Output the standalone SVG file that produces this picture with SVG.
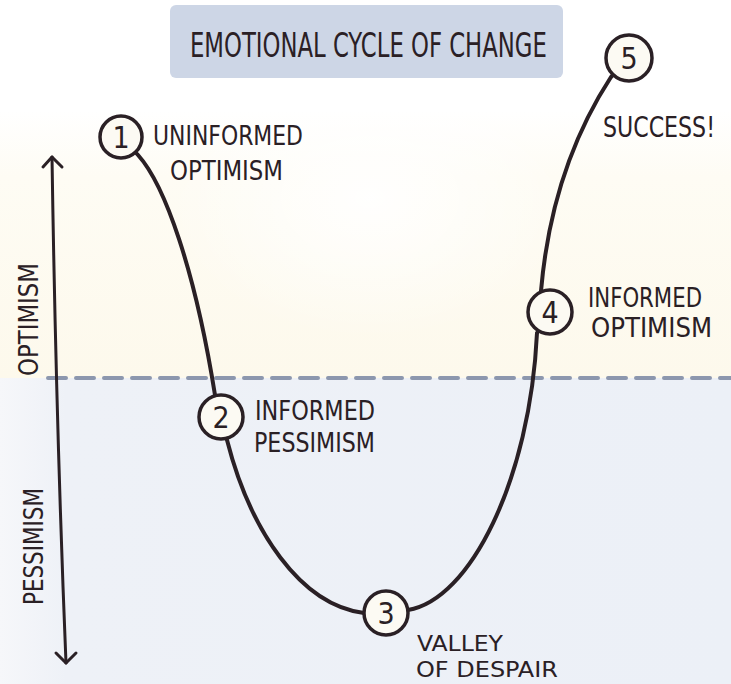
<svg xmlns="http://www.w3.org/2000/svg" width="731" height="684" viewBox="0 0 731 684">
<defs>
<linearGradient id="cream" x1="0" y1="0" x2="0" y2="1">
<stop offset="0" stop-color="#ffffff"/>
<stop offset="0.25" stop-color="#fefcf4"/>
<stop offset="1" stop-color="#fdf9ec"/>
</linearGradient>
<radialGradient id="glow" cx="0.5" cy="0.35" r="0.5">
<stop offset="0" stop-color="#ffffff" stop-opacity="0.9"/>
<stop offset="1" stop-color="#ffffff" stop-opacity="0"/>
</radialGradient>
<linearGradient id="blue" x1="0" y1="0" x2="1" y2="0">
<stop offset="0" stop-color="#f6f7fa"/>
<stop offset="0.09" stop-color="#eef1f7"/>
<stop offset="1" stop-color="#ecf0f7"/>
</linearGradient>
</defs>
<style>
.lbl{font-family:"Liberation Sans Narrow","DejaVu Sans Condensed","Liberation Sans",sans-serif;font-size:26px;fill:#2a2025;}
.sm{font-size:22px;}
.ttl{font-size:34px;}
.succ{font-size:28px;}
.num{font-family:"Liberation Sans Narrow","DejaVu Sans Condensed","Liberation Sans",sans-serif;font-size:30px;fill:#2a2025;text-anchor:middle;}
.node circle{fill:#fcfaf3;stroke:#2a2025;stroke-width:3.5;}
.curve{fill:none;stroke:#2a2025;stroke-width:4;stroke-linecap:round;}
.axisline{fill:none;stroke:#2a2025;stroke-width:3;stroke-linecap:round;stroke-linejoin:round;}
</style>
<rect x="0" y="0" width="731" height="684" fill="#ffffff"/>
<rect x="0" y="110" width="731" height="268" fill="url(#cream)"/>
<ellipse cx="370" cy="240" rx="200" ry="140" fill="url(#glow)"/>
<rect x="0" y="378" width="731" height="306" fill="url(#blue)"/>
<line x1="48" y1="378" x2="731" y2="378" stroke="#8c97ae" stroke-width="4" stroke-dasharray="18 10" stroke-linecap="round"/>

<g id="title">
<rect x="170" y="5" width="393" height="73" rx="6" fill="#cdd6e6"/>
<text class="lbl ttl" transform="translate(190,57) scale(0.8,1)" x="0" y="0" textLength="446" lengthAdjust="spacingAndGlyphs">EMOTIONAL CYCLE OF CHANGE</text>
</g>

<g id="axis">
<path class="axisline" d="M66,663 Q56,420 52,157"/>
<path class="axisline" d="M43,167 L52,157 L62,167"/>
<path class="axisline" d="M56,653 L66,663 L76,653"/>
<text class="lbl" transform="translate(38,376) rotate(-90)" textLength="113" lengthAdjust="spacingAndGlyphs">OPTIMISM</text>
<text class="lbl" transform="translate(43,605) rotate(-90)" textLength="117" lengthAdjust="spacingAndGlyphs">PESSIMISM</text>
</g>

<g id="connectors">
<path class="curve" d="M121,137 L138,155 C165,185 195,270 215,395 L221,417"/>
<path class="curve" d="M221,417 L227,440 C250,530 300,605 364,613 L386,613"/>
<path class="curve" d="M386,613 L408,610 C470,600 530,480 537,333 L550,312"/>
<path class="curve" d="M550,312 L541,291 C548,210 570,140 611,77 L629,58"/>
</g>

<g id="node1" class="node">
<circle cx="121" cy="137" r="21"/>
<text class="num" x="121" y="148">1</text>
<text class="lbl" x="153" y="145" textLength="150" lengthAdjust="spacingAndGlyphs">UNINFORMED</text>
<text class="lbl" x="170" y="180" textLength="113" lengthAdjust="spacingAndGlyphs">OPTIMISM</text>
</g>
<g id="node2" class="node">
<circle cx="221" cy="417" r="22"/>
<text class="num" x="221" y="428">2</text>
<text class="lbl" x="255" y="420" textLength="120" lengthAdjust="spacingAndGlyphs">INFORMED</text>
<text class="lbl" x="254" y="452" textLength="121" lengthAdjust="spacingAndGlyphs">PESSIMISM</text>
</g>
<g id="node3" class="node">
<circle cx="386" cy="613" r="22"/>
<text class="num" x="386" y="624">3</text>
<text class="lbl sm" x="417" y="651" textLength="86" lengthAdjust="spacingAndGlyphs">VALLEY</text>
<text class="lbl sm" x="416" y="677" textLength="142" lengthAdjust="spacingAndGlyphs">OF DESPAIR</text>
</g>
<g id="node4" class="node">
<circle cx="550" cy="312" r="22"/>
<text class="num" x="550" y="323">4</text>
<text class="lbl" x="588" y="307" textLength="114" lengthAdjust="spacingAndGlyphs">INFORMED</text>
<text class="lbl" x="591" y="337" textLength="121" lengthAdjust="spacingAndGlyphs">OPTIMISM</text>
</g>
<g id="node5" class="node">
<circle cx="629" cy="58" r="23"/>
<text class="num" x="629" y="69">5</text>
<text class="lbl succ" x="603" y="137" textLength="112" lengthAdjust="spacingAndGlyphs">SUCCESS!</text>
</g>
</svg>
